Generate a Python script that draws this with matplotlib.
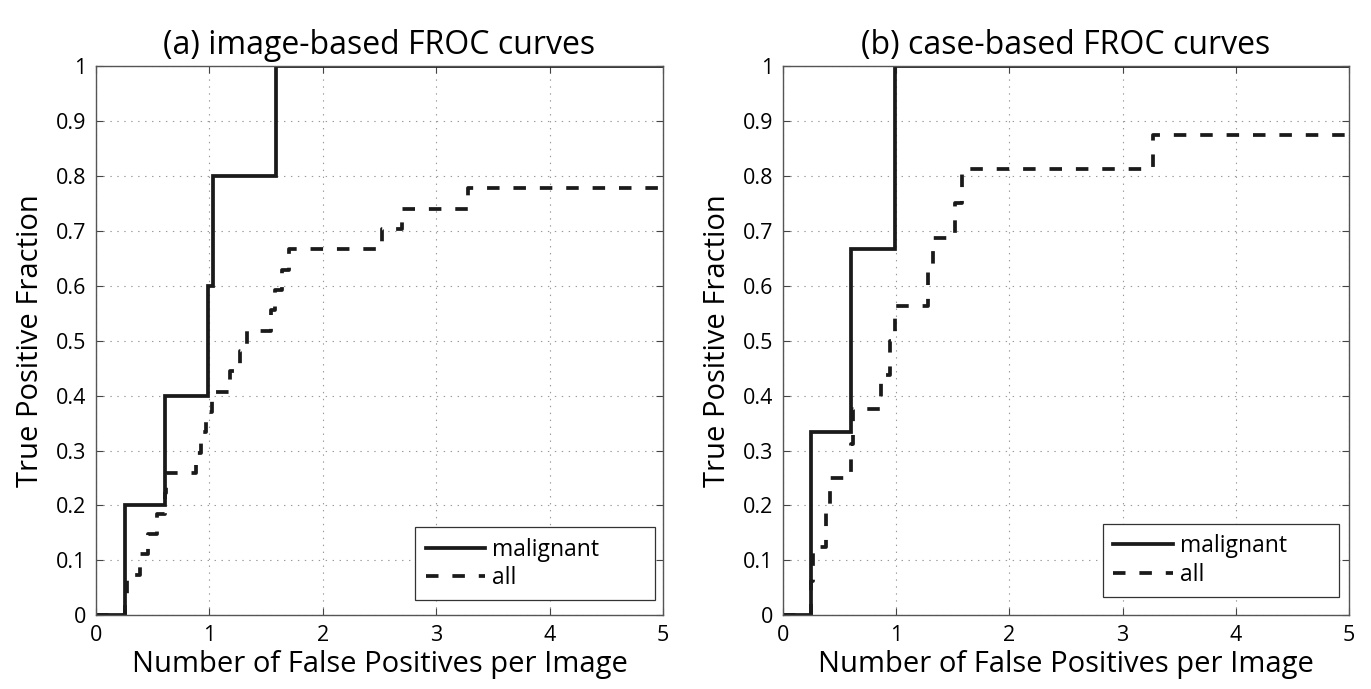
import matplotlib
matplotlib.use("Agg")
import matplotlib.pyplot as plt
import numpy as np

plt.rcParams['font.family'] = ['Open Sans', 'DejaVu Sans']
plt.rcParams['lines.scale_dashes'] = False

# (a) image-based FROC: 5 malignant lesions, 27 lesions in all
img_fp_malignant = [0, 0.26, 0.61, 0.99, 1.03, 1.59, 5]
img_tpf_malignant = [0, 0.2, 0.4, 0.6, 0.8, 1.0, 1.0]
img_fp_all = [0, 0.26, 0.27, 0.39, 0.46, 0.54, 0.61, 0.62, 0.88, 0.93, 0.97, 1.02,
              1.18, 1.27, 1.33, 1.54, 1.58, 1.64, 1.70, 2.52, 2.70, 3.28, 5]
img_tpf_all = [k / 27 for k in range(22)] + [21 / 27]

# (b) case-based FROC: 3 malignant cases, 16 cases in all
case_fp_malignant = [0, 0.25, 0.60, 0.99, 5]
case_tpf_malignant = [0, 1 / 3, 2 / 3, 1.0, 1.0]
case_fp_all = [0, 0.25, 0.27, 0.38, 0.42, 0.60, 0.62, 0.87, 0.95, 0.99,
               1.28, 1.33, 1.52, 1.58, 3.27, 5]
case_tpf_all = [k / 16 for k in range(15)] + [14 / 16]

titles = ["(a) image-based FROC curves", "(b) case-based FROC curves"]
xticks = [0, 1, 2, 3, 4, 5]
yticks = [0, 0.1, 0.2, 0.3, 0.4, 0.5, 0.6, 0.7, 0.8, 0.9, 1]
yticklabels = ["0", "0.1", "0.2", "0.3", "0.4", "0.5", "0.6", "0.7", "0.8", "0.9", "1"]

fig = plt.figure(figsize=(13.71, 6.89), dpi=100)
ax1 = fig.add_axes([0.070, 0.107, 0.4136, 0.797])
ax2 = fig.add_axes([0.571, 0.107, 0.413, 0.797])

data = [
    (img_fp_malignant, img_tpf_malignant, img_fp_all, img_tpf_all),
    (case_fp_malignant, case_tpf_malignant, case_fp_all, case_tpf_all),
]
# legend box (x0, y0, width, height) in axes fractions
legend_boxes = [(0.563, 0.027, 0.423, 0.133), (0.565, 0.033, 0.417, 0.136)]

for ax, title, (fm, tm, fa, ta), lb in zip([ax1, ax2], titles, data, legend_boxes):
    ax.plot(fm, tm, drawstyle='steps-post', color='#1a1a1a', lw=2.7,
            label='malignant', solid_joinstyle='miter')
    ax.plot(fa, ta, drawstyle='steps-post', color='#1a1a1a', lw=2.7,
            dashes=(9, 10), label='all', dash_capstyle='butt')
    ax.set_xlim(0, 5)
    ax.set_ylim(0, 1)
    ax.set_xticks(xticks)
    ax.set_yticks(yticks)
    ax.set_yticklabels(yticklabels)
    ax.grid(True, linestyle=(0, (1, 4)), color='#999999', linewidth=0.8)
    ax.tick_params(direction='in', top=True, right=True, labelsize=15.5,
                   length=5, width=0.8, color='#444444', pad=7)
    for sp in ax.spines.values():
        sp.set_color('#555555')
        sp.set_linewidth(1.0)
    ax.set_title(title, fontsize=23, pad=9)
    ax.set_xlabel("Number of False Positives per Image", fontsize=21, labelpad=3)
    ax.set_ylabel("True Positive Fraction", fontsize=21, labelpad=8)
    leg = ax.legend(loc='lower left', bbox_to_anchor=lb, mode='expand', fontsize=16.5,
                    handlelength=2.6, fancybox=False, edgecolor='#333333',
                    borderpad=0.45, labelspacing=0.2, handletextpad=0.3,
                    borderaxespad=0.0, framealpha=1.0)
    leg.get_frame().set_linewidth(0.9)

plt.savefig("out.png", dpi=100)
